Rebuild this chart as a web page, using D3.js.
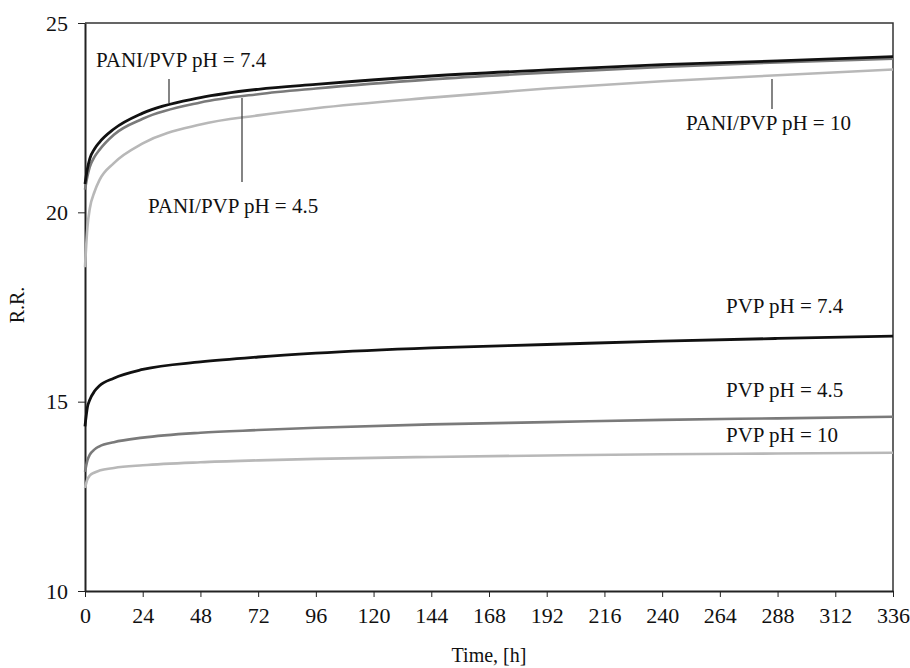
<!doctype html>
<html>
<head>
<meta charset="utf-8"/>
<style>
  html, body { margin: 0; padding: 0; background: #fff; }
  svg { display: block; }
  text { font-family: 'Liberation Serif', 'Times New Roman', serif; fill: #111; }
  .axis path, .axis line { stroke: #222; fill: none; }
</style>
<script src="https://d3js.org/d3.v7.min.js"></script>
</head>
<body>
<svg id="chart" width="910" height="668"></svg>
<script>
// sampling times, hours
var times = [0, 1, 2, 4, 6, 12, 24, 48, 72, 96, 144, 192, 240, 288, 336];

var paniPh74 = [20.75, 21.15, 21.42, 21.68, 21.85, 22.2, 22.62, 23.03, 23.25, 23.38, 23.6, 23.76, 23.9, 24.0, 24.11];
var paniPh45 = [20.6, 20.95, 21.2, 21.47, 21.65, 22.05, 22.47, 22.9, 23.12, 23.27, 23.51, 23.69, 23.84, 23.96, 24.06];
var paniPh10 = [18.55, 19.6, 20.1, 20.55, 20.85, 21.3, 21.82, 22.32, 22.56, 22.75, 23.03, 23.27, 23.46, 23.62, 23.77];
var pvpPh74 = [14.35, 14.85, 15.05, 15.28, 15.42, 15.62, 15.85, 16.05, 16.18, 16.28, 16.42, 16.51, 16.6, 16.67, 16.73];
var pvpPh45 = [13.15, 13.45, 13.6, 13.74, 13.82, 13.93, 14.05, 14.18, 14.25, 14.31, 14.4, 14.46, 14.52, 14.56, 14.6];
var pvpPh10 = [12.72, 12.95, 13.05, 13.13, 13.18, 13.25, 13.32, 13.4, 13.45, 13.49, 13.54, 13.58, 13.61, 13.63, 13.65];

var xTicks = [0, 24, 48, 72, 96, 120, 144, 168, 192, 216, 240, 264, 288, 312, 336];
var yTicks = [10, 15, 20, 25];

var series = [
  {name: "PANI/PVP pH = 10", values: paniPh10, colour: "#b8b8b8", width: 2.6},
  {name: "PANI/PVP pH = 4.5", values: paniPh45, colour: "#7a7a7a", width: 2.6},
  {name: "PANI/PVP pH = 7.4", values: paniPh74, colour: "#111", width: 2.8},
  {name: "PVP pH = 10", values: pvpPh10, colour: "#b8b8b8", width: 2.6},
  {name: "PVP pH = 4.5", values: pvpPh45, colour: "#7a7a7a", width: 2.6},
  {name: "PVP pH = 7.4", values: pvpPh74, colour: "#111", width: 2.8}
];

var svg = d3.select("#chart");
var plot = {left: 85, right: 893, top: 23, bottom: 591};

var x = d3.scaleLinear().domain([0, 336]).range([plot.left, plot.right]);
var y = d3.scaleLinear().domain([10, 25]).range([plot.bottom, plot.top]);

// frame top and right
svg.append("path")
  .attr("d", "M" + plot.left + "," + plot.top + "H" + plot.right + "V" + plot.bottom)
  .attr("fill", "none")
  .attr("stroke", "#333")
  .attr("stroke-width", 1.5);

var xAxis = svg.append("g")
  .attr("class", "axis")
  .attr("transform", "translate(0," + plot.bottom + ")")
  .call(d3.axisBottom(x).tickValues(xTicks).tickSize(6).tickSizeOuter(0).tickPadding(10));
xAxis.select(".domain").attr("stroke-width", 2);
xAxis.selectAll("text").style("font-size", "22px").attr("fill", "#111");

var yAxis = svg.append("g")
  .attr("class", "axis")
  .attr("transform", "translate(" + plot.left + ",0)")
  .call(d3.axisLeft(y).tickValues(yTicks).tickSize(7).tickSizeOuter(0).tickPadding(10));
yAxis.select(".domain").attr("stroke-width", 2);
yAxis.selectAll("text").style("font-size", "22px").attr("fill", "#111");

var line = d3.line()
  .x(function(d) { return x(d[0]); })
  .y(function(d) { return y(d[1]); })
  .curve(d3.curveMonotoneX);

svg.selectAll(".series")
  .data(series)
  .enter().append("path")
  .attr("class", "series")
  .attr("fill", "none")
  .attr("stroke", function(d) { return d.colour; })
  .attr("stroke-width", function(d) { return d.width; })
  .attr("d", function(d) { return line(times.map(function(t, i) { return [t, d.values[i]]; })); });

// series labels, with pointer lines where the original has them
var labels = [
  {text: "PANI/PVP pH = 7.4", x: 96, y: 67, px: 169, py1: 79, py2: 103},
  {text: "PANI/PVP pH = 4.5", x: 148, y: 213, px: 242, py1: 98, py2: 182},
  {text: "PANI/PVP pH = 10", x: 686, y: 130, px: 772, py1: 79, py2: 109},
  {text: "PVP pH = 7.4", x: 726, y: 313},
  {text: "PVP pH = 4.5", x: 726, y: 397},
  {text: "PVP pH = 10", x: 726, y: 442}
];

labels.forEach(function(l) {
  svg.append("text")
    .attr("x", l.x)
    .attr("y", l.y)
    .style("font-size", "21px")
    .text(l.text);
  if (l.px !== undefined) {
    svg.append("line")
      .attr("x1", l.px).attr("x2", l.px)
      .attr("y1", l.py1).attr("y2", l.py2)
      .attr("stroke", "#333")
      .attr("stroke-width", 1.2);
  }
});

svg.append("text")
  .attr("x", (plot.left + plot.right) / 2)
  .attr("y", 662)
  .attr("text-anchor", "middle")
  .style("font-size", "20px")
  .text("Time, [h]");

svg.append("text")
  .attr("transform", "translate(24,305) rotate(-90)")
  .attr("text-anchor", "middle")
  .style("font-size", "20px")
  .text("R.R.");
</script>
</body>
</html>
